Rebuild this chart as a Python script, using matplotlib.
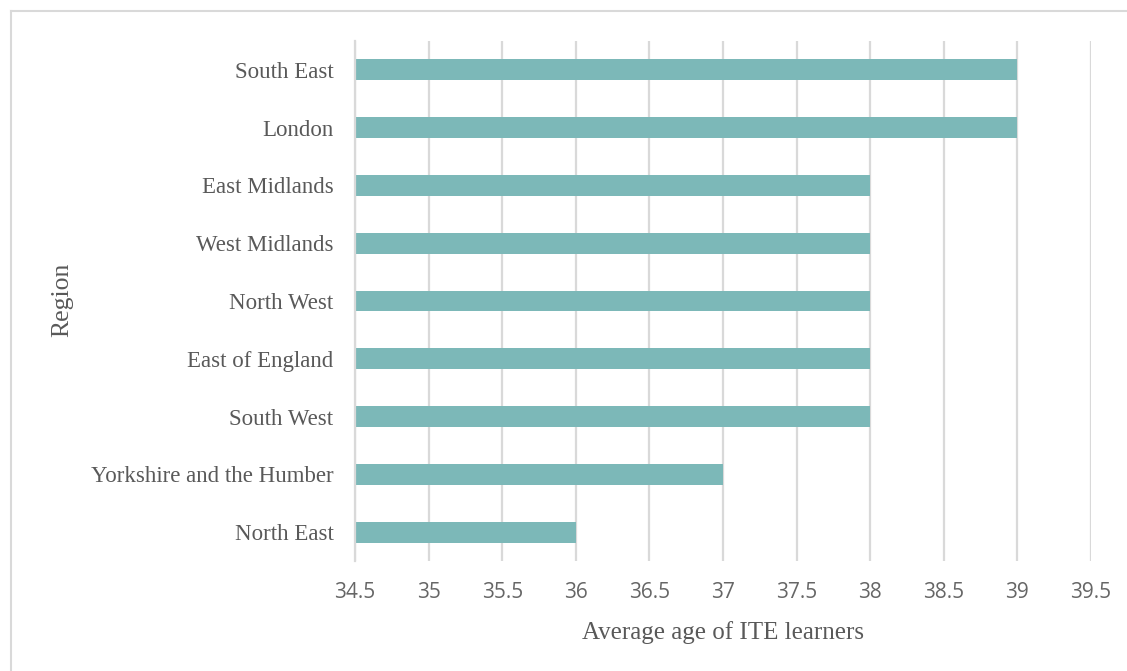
import matplotlib.pyplot as plt
from matplotlib.lines import Line2D

regions = ["South East", "London", "East Midlands", "West Midlands", "North West",
           "East of England", "South West", "Yorkshire and the Humber", "North East"]
avg_age = [39, 39, 38, 38, 38, 38, 38, 37, 36]
x_ticks = [34.5, 35, 35.5, 36, 36.5, 37, 37.5, 38, 38.5, 39, 39.5]

bar_color = "#7cb8b8"
text_color = "#595959"
grid_color = "#d9d9d9"
serif = ["Liberation Serif", "DejaVu Serif"]
sans = ["Open Sans", "DejaVu Sans"]

fig = plt.figure(figsize=(11.27, 6.71), dpi=100)
ax = fig.add_axes([355 / 1127, 1 - 561 / 671, (1091 - 355) / 1127, (561 - 41) / 671])

xmin = x_ticks[0]
ypos = list(range(len(regions)))
ax.barh(ypos, [v - xmin for v in avg_age], left=xmin, height=0.36,
        color=bar_color, zorder=3)

ax.set_xlim(x_ticks[0], x_ticks[-1])
ax.set_ylim(len(regions) - 0.5, -0.5)
ax.set_xticks(x_ticks)
ax.set_xticklabels([f"{t:g}" for t in x_ticks], family=sans, fontsize=15,
                   color="#666666")
ax.set_yticks(ypos)
ax.set_yticklabels(regions, family=serif, fontsize=16.5, color=text_color)
ax.tick_params(axis="both", length=0)
ax.tick_params(axis="x", pad=15)
ax.tick_params(axis="y", pad=15.5)

ax.grid(axis="x", color=grid_color, linewidth=1.6, zorder=0)
for side in ["top", "right", "bottom"]:
    ax.spines[side].set_visible(False)
ax.spines["left"].set_color(grid_color)
ax.spines["left"].set_linewidth(1.6)
ax.spines["left"].set_zorder(4)

ax.set_xlabel("Average age of ITE learners", family=serif, fontsize=18,
              color=text_color, labelpad=13)
ax.set_ylabel("Region", family=serif, fontsize=18.5, color=text_color)
ax.yaxis.set_label_coords(73 / 1127, 1 - 300 / 671, transform=fig.transFigure)

# frame around the chart area (top and left edges)
fig.add_artist(Line2D([11 / 1127, 1.0], [1 - 11 / 671, 1 - 11 / 671],
                      color="#d9d9d9", linewidth=1.5, transform=fig.transFigure))
fig.add_artist(Line2D([11 / 1127, 11 / 1127], [0.0, 1 - 11 / 671],
                      color="#d9d9d9", linewidth=1.5, transform=fig.transFigure))

fig.savefig("out.png", dpi=100, facecolor="white")
